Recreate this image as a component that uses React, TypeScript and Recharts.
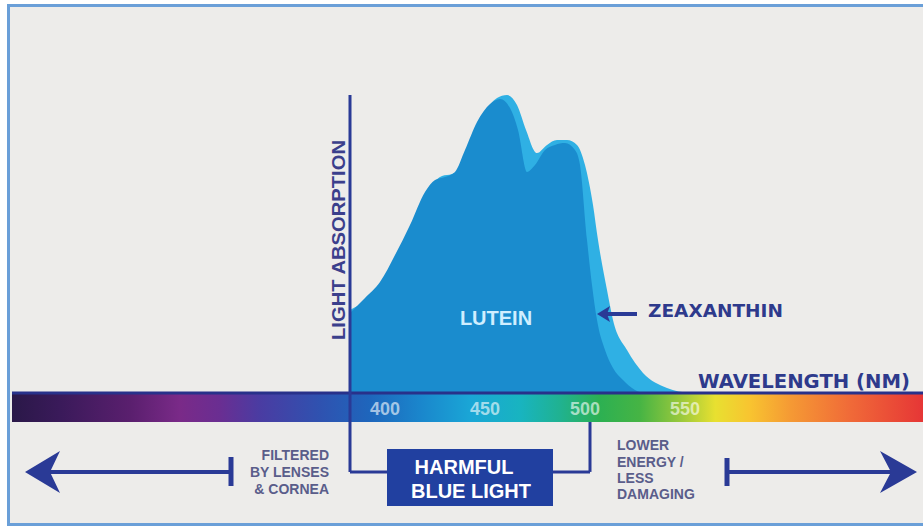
import { ComposedChart, Area, XAxis, YAxis, ReferenceArea, ReferenceLine } from "recharts"

// wavelength (nm) / relative absorption
const luteinNm = [382.5, 390, 397.5, 405, 412.5, 420, 425, 430, 435, 440, 446, 452.5, 457.5, 462.5, 466.5, 471, 475, 480, 485, 490, 495, 497.5, 501, 503.5, 506, 510, 514, 519, 525, 530]
const luteinAbs = [26.7, 31.7, 37, 46, 56, 67, 71, 72, 73.7, 81, 90.3, 96.3, 98, 95, 87.7, 73.7, 76, 81, 82.7, 83.3, 81, 76, 51, 36, 24.3, 14.3, 8.3, 4.3, 1, 0]

const zeaxanthinNm = [382.5, 393.5, 402.5, 410, 417.5, 423.5, 428.5, 433.5, 438.5, 443.5, 449.5, 456, 461, 466, 470.5, 476, 481, 486, 491, 496, 500, 504, 506.5, 511, 514, 521, 529, 541, 552.5]
const zeaxanthinAbs = [27.7, 32.3, 39.3, 49.3, 61, 69.3, 72.3, 73, 75, 82.7, 92.7, 98.3, 99.3, 96, 87.7, 80, 82.7, 84.3, 84.3, 82.7, 76, 62.7, 51, 34.3, 24.3, 14.3, 6.7, 1.7, 0]

const tickWavelengths = [400, 450, 500, 550]
const xDomain = [213.5, 669]
const yDomain = [-9.667, 100]
const axisNm = 382.5
const harmfulBand = [401, 484]
const harmfulEdgeNm = 502.5

interface Row {
  nm: number
  lutein: number | null
  zeaxanthin: number | null
}

function buildRows(): Row[] {
  const map = new Map<number, Row>()
  const get = (nm: number) => {
    let r = map.get(nm)
    if (!r) {
      r = { nm, lutein: null, zeaxanthin: null }
      map.set(nm, r)
    }
    return r
  }
  luteinNm.forEach((nm, i) => (get(nm).lutein = luteinAbs[i]))
  zeaxanthinNm.forEach((nm, i) => (get(nm).zeaxanthin = zeaxanthinAbs[i]))
  return Array.from(map.values()).sort((a, b) => a.nm - b.nm)
}

const data = buildRows()

const spectrumStops: [number, string][] = [
  [0, "#2a1848"],
  [0.053, "#3a1a5a"],
  [0.13, "#5a1f6e"],
  [0.184, "#7a2a88"],
  [0.228, "#6a2e92"],
  [0.272, "#4a3ca2"],
  [0.338, "#2f52b0"],
  [0.393, "#1e66bc"],
  [0.448, "#1a86cc"],
  [0.503, "#1aa6d6"],
  [0.558, "#18b4c0"],
  [0.602, "#20b290"],
  [0.645, "#2cb052"],
  [0.689, "#46b444"],
  [0.733, "#98c83c"],
  [0.772, "#e8e030"],
  [0.81, "#f8c430"],
  [0.854, "#f59a34"],
  [0.92, "#f06a38"],
  [1, "#e63636"],
]

const navy = "#2a3a96"
const textNavy = "#2e3a8c"

const WaveTick = (props: any) => {
  const { x, y, payload } = props
  return (
    <text
      x={x}
      y={y - 15}
      textAnchor="middle"
      fontFamily="Liberation Sans, Arial, sans-serif"
      fontWeight={700}
      fontSize={18}
      fill="#ffffff"
      fillOpacity={0.6}
    >
      {payload.value}
    </text>
  )
}

const HarmfulLabel = (props: any) => {
  const { x, y, width, height } = props.viewBox
  const cx = x + width / 2
  return (
    <g fontFamily="Liberation Sans, Arial, sans-serif" fontWeight={700} fontSize={20} fill="#ffffff" textAnchor="middle">
      <text x={cx - 6} y={y + height / 2 - 4}>HARMFUL</text>
      <text x={cx + 1} y={y + height / 2 + 20}>BLUE LIGHT</text>
    </g>
  )
}

function Overlay() {
  const small = { fontFamily: "Liberation Sans, Arial, sans-serif", fontWeight: 700, fontSize: 14, fill: "#5a5d8a" }
  return (
    <svg width={923} height={526} style={{ position: "absolute", left: 0, top: 0, pointerEvents: "none" }}>
      <text
        transform="translate(345 240) rotate(-90)"
        textAnchor="middle"
        fontFamily="Liberation Sans, Arial, sans-serif"
        fontWeight={700}
        fontSize={18}
        textLength={200}
        lengthAdjust="spacingAndGlyphs"
        fill="#3b3f8c"
      >
        LIGHT ABSORPTION
      </text>
      <text x={496} y={325} textAnchor="middle" fontFamily="Liberation Sans, Arial, sans-serif" fontWeight={700} fontSize={20} fill="#cfeeff">
        LUTEIN
      </text>
      <text x={648} y={317} fontFamily="DejaVu Sans, sans-serif" fontWeight={700} fontSize={18} textLength={135} lengthAdjust="spacingAndGlyphs" fill={textNavy}>
        ZEAXANTHIN
      </text>
      <line x1={606} y1={314} x2={637} y2={314} stroke={navy} strokeWidth={4} />
      <polygon points="597,314 610,306 607,314 610,322" fill={navy} />
      <text x={910} y={388} textAnchor="end" fontFamily="DejaVu Sans, sans-serif" fontWeight={700} fontSize={19} textLength={212} lengthAdjust="spacingAndGlyphs" fill={textNavy}>
        WAVELENGTH (NM)
      </text>

      {/* left arrow */}
      <line x1={48} y1={472} x2={232} y2={472} stroke={navy} strokeWidth={4} />
      <line x1={231} y1={457} x2={231} y2={486} stroke={navy} strokeWidth={5} />
      <polygon points="25,472 60,451 50,472 60,493" fill={navy} />
      <g {...small} textAnchor="end">
        <text x={329} y={460}>FILTERED</text>
        <text x={329} y={477}>BY LENSES</text>
        <text x={329} y={494}>&amp; CORNEA</text>
      </g>

      {/* right arrow */}
      <line x1={727} y1={472} x2={892} y2={472} stroke={navy} strokeWidth={4} />
      <line x1={727} y1={458} x2={727} y2={486} stroke={navy} strokeWidth={5} />
      <polygon points="917,472 880,451 891,472 880,493" fill={navy} />
      <g {...small} textAnchor="start">
        <text x={617} y={450}>LOWER</text>
        <text x={617} y={467}>ENERGY /</text>
        <text x={617} y={483}>LESS</text>
        <text x={617} y={499}>DAMAGING</text>
      </g>
    </svg>
  )
}

export default function App() {
  return (
    <div style={{ position: "absolute", left: 0, top: 0, width: 923, height: 526, background: "#ffffff", overflow: "hidden" }}>
      <div
        style={{
          position: "absolute",
          left: 7,
          top: 4,
          width: 930,
          height: 516,
          background: "#edecea",
          borderLeft: "3px solid #6a9fd8",
          borderTop: "3px solid #6a9fd8",
          borderBottom: "3px solid #6a9fd8",
        }}
      />
      <div style={{ position: "absolute", left: 0, top: 0 }}>
        <ComposedChart width={923} height={526} data={data} margin={{ top: 93, right: 0, bottom: 74, left: 12 }}>
          <defs>
            <linearGradient id="spectrum" x1="0" y1="0" x2="1" y2="0">
              {spectrumStops.map(([o, c]) => (
                <stop key={o} offset={o} stopColor={c} />
              ))}
            </linearGradient>
          </defs>
          <XAxis
            dataKey="nm"
            type="number"
            domain={xDomain}
            ticks={tickWavelengths}
            axisLine={false}
            tickLine={false}
            height={30}
            tick={<WaveTick />}
            allowDataOverflow
          />
          <YAxis type="number" domain={yDomain} hide allowDataOverflow />
          <ReferenceArea x1={xDomain[0]} x2={xDomain[1]} y1={yDomain[0]} y2={0} fill="url(#spectrum)" fillOpacity={1} stroke="none" ifOverflow="visible" />
          <Area
            type="monotone"
            dataKey="zeaxanthin"
            fill="#2fb0e4"
            fillOpacity={1}
            stroke="none"
            connectNulls
            isAnimationActive={false}
          />
          <Area
            type="monotone"
            dataKey="lutein"
            fill="#1a8cce"
            fillOpacity={1}
            stroke="none"
            connectNulls
            isAnimationActive={false}
          />
          <ReferenceLine y={0} stroke="#28318a" strokeWidth={3} ifOverflow="visible" />
          <ReferenceArea
            x1={harmfulBand[0]}
            x2={harmfulBand[1]}
            y1={-37.7}
            y2={-18.7}
            fill="#2140a0"
            fillOpacity={1}
            stroke="none"
            ifOverflow="visible"
            label={<HarmfulLabel />}
          />
          <ReferenceLine
            segment={[{ x: axisNm, y: 99.3 }, { x: axisNm, y: -26.3 }]}
            stroke={navy}
            strokeWidth={3}
            ifOverflow="visible"
          />
          <ReferenceLine
            segment={[{ x: axisNm, y: -26.3 }, { x: harmfulBand[0], y: -26.3 }]}
            stroke={navy}
            strokeWidth={3}
            ifOverflow="visible"
          />
          <ReferenceLine
            segment={[{ x: harmfulEdgeNm, y: yDomain[0] }, { x: harmfulEdgeNm, y: -26.3 }]}
            stroke={navy}
            strokeWidth={3}
            ifOverflow="visible"
          />
          <ReferenceLine
            segment={[{ x: harmfulEdgeNm, y: -26.3 }, { x: harmfulBand[1], y: -26.3 }]}
            stroke={navy}
            strokeWidth={3}
            ifOverflow="visible"
          />
        </ComposedChart>
      </div>
      <Overlay />
    </div>
  )
}
